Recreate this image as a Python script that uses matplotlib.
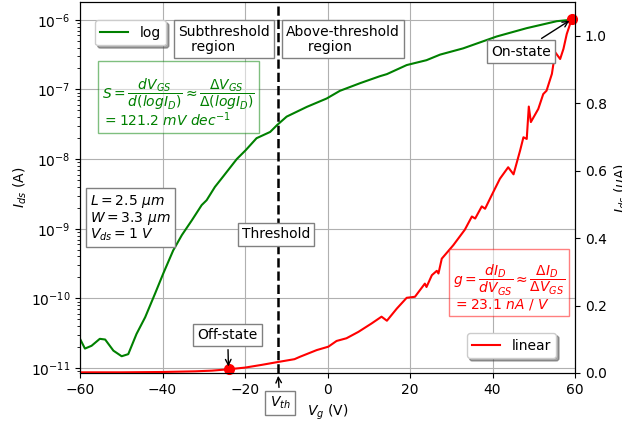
import numpy as np
import matplotlib
matplotlib.use("Agg")
import matplotlib.pyplot as plt

# ---- data ----
vg_log = [-60, -58.8, -57.2, -55.2, -53.9, -51.9, -49.9, -48.3, -46.3, -44.2,
          -41.8, -39.8, -37.4, -35.3, -32.9, -30.5, -29.3, -27.3, -25.3, -22.0,
          -19.8, -17.2, -13.9, -12.2, -9.9, -5.0, -0.2, 3.0, 7.9, 12.7,
          14.4, 19.2, 24.0, 27.3, 32.9, 41.0, 48.3, 55.6, 59.2]
log_ids = [-10.58, -10.72, -10.68, -10.58, -10.59, -10.75, -10.83, -10.80, -10.51, -10.27,
           -9.93, -9.64, -9.31, -9.09, -8.88, -8.66, -8.59, -8.40, -8.25, -8.00,
           -7.87, -7.70, -7.61, -7.51, -7.39, -7.25, -7.13, -7.02, -6.91, -6.81,
           -6.78, -6.65, -6.58, -6.50, -6.41, -6.24, -6.12, -6.02, -6.00]

vg_lin = [-60, -50, -40, -32, -28, -24, -20, -16, -12.3, -8, -6.7, -2.6, 0.2, 2.2,
          4.6, 7.5, 10.7, 13.1, 14.4, 16.8, 19.2, 21.2, 23.6, 24.0, 25.3, 26.5,
          26.9, 27.7, 30.5, 33.3, 35.0, 35.8, 37.4, 38.2, 39.8, 41.8, 43.8, 45.1,
          46.7, 47.5, 48.3, 48.8, 49.3, 51.1, 52.3, 53.1, 54.4, 55.2, 56.4, 57.2,
          58.0, 59.2]
ids_lin = [0.002, 0.002, 0.003, 0.005, 0.007, 0.011, 0.016, 0.024, 0.032, 0.041,
           0.048, 0.068, 0.078, 0.095, 0.103, 0.122, 0.147, 0.167, 0.155, 0.191,
           0.223, 0.226, 0.265, 0.255, 0.290, 0.303, 0.295, 0.339, 0.379, 0.425,
           0.464, 0.458, 0.494, 0.487, 0.527, 0.576, 0.610, 0.589, 0.660, 0.699,
           0.694, 0.790, 0.744, 0.783, 0.827, 0.837, 0.887, 0.951, 0.931, 0.961,
           1.005, 1.049]

vth = -12
off_state = (-24, 0.011)
on_state = (59.2, 1.049)
xticks = [-60, -40, -20, 0, 20, 40, 60]
yticks_lin = [0.0, 0.2, 0.4, 0.6, 0.8, 1.0]

ids_log = [10.0 ** v for v in log_ids]

fig = plt.figure(figsize=(6.22, 4.21), dpi=100)
ax = fig.add_axes([80 / 622, 48 / 421, 495 / 622, 371 / 421])
ax.plot(vg_log, ids_log, color='g', lw=1.5, label='log')
ax.set_yscale('log')
ax.set_xlim(-60, 60)
ax.set_ylim(8.5e-12, 1.8e-6)
ax.set_xticks(xticks)
ax.grid(True, color='#b0b0b0', lw=0.8)
ax.set_xlabel('$V_g$ (V)')
ax.set_ylabel('$I_{ds}$ (A)', labelpad=1)
ax.axvline(vth, color='k', ls='--', lw=1.8)
ax.legend(loc='upper left', bbox_to_anchor=(0.03, 0.951), borderaxespad=0,
          shadow=True, fancybox=True)

ax2 = ax.twinx()
ax2.plot(vg_lin, ids_lin, color='r', lw=1.5, label='linear')
ax2.set_ylim(0, 1.1)
ax2.set_yticks(yticks_lin)
ax2.set_ylabel('$I_{ds}$ ($\\mu$A)')
ax2.plot([off_state[0]], [off_state[1]], 'o', color='r', ms=7, clip_on=False)
ax2.plot([on_state[0]], [on_state[1]], 'o', color='r', ms=7, clip_on=False)
ax2.legend(loc='lower right', bbox_to_anchor=(0.962, 0.04), borderaxespad=0,
           shadow=True, fancybox=True)

gray_box = dict(boxstyle='square', facecolor='white', edgecolor='gray')
ax2.text(-25.2, 0.99, 'Subthreshold\n   region', ha='center', va='center',
         multialignment='left', linespacing=1.1, bbox=gray_box)
ax2.text(3.8, 0.99, 'Above-threshold\n     region', ha='center', va='center',
         multialignment='left', linespacing=1.1, bbox=gray_box)
ax2.text(-12.5, 0.411, 'Threshold', ha='center', va='center', bbox=gray_box)
ax2.text(-57.6, 0.460, '$L = 2.5\\ \\mu m$\n$W = 3.3\\ \\mu m$\n$V_{ds} = 1\\ V$',
         ha='left', va='center', linespacing=1.0, bbox=gray_box)
ax2.text(-54.7, 0.803,
         '$S=\\dfrac{dV_{GS}}{d(logI_D)} \\approx \\dfrac{\\Delta V_{GS}}{\\Delta(logI_D)}$\n$= 121.2\\ mV\\ dec^{-1}$',
         ha='left', va='center', color='g', linespacing=0.9,
         bbox=dict(boxstyle='square', facecolor='white', edgecolor='g', alpha=0.5))
ax2.text(30.4, 0.253,
         '$g=\\dfrac{dI_D}{dV_{GS}} \\approx \\dfrac{\\Delta I_D}{\\Delta V_{GS}}$\n$= 23.1\\ nA\\ /\\ V$',
         ha='left', va='center', color='r', linespacing=0.9,
         bbox=dict(boxstyle='square', facecolor='white', edgecolor='r', alpha=0.5))

ax2.annotate('Off-state', xy=off_state, xytext=(-24.2, 0.112), ha='center', va='center',
             bbox=gray_box, arrowprops=dict(arrowstyle='->', color='k', lw=1))
ax2.annotate('On-state', xy=on_state, xytext=(46.9, 0.953), ha='center', va='center',
             bbox=gray_box, arrowprops=dict(arrowstyle='->', color='k', lw=1))
ax.annotate('$V_{th}$', xy=(vth, 0), xycoords=('data', 'axes fraction'),
            xytext=(-11.5, -0.081), textcoords=('data', 'axes fraction'),
            ha='center', va='center', bbox=gray_box, annotation_clip=False,
            arrowprops=dict(arrowstyle='->', color='k', lw=1))

fig.savefig('out.png', dpi=100)
